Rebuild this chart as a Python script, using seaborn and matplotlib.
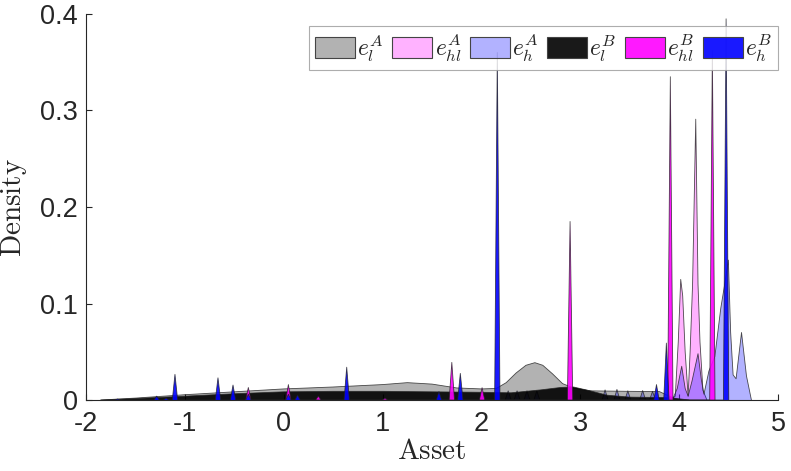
import numpy as np
import pandas as pd
import matplotlib
matplotlib.use("Agg")
import matplotlib.pyplot as plt
from matplotlib.patches import Patch
import seaborn as sns

# ---------------- data ----------------
# e_l^A  (gray) : smooth density
el_A_x = [-1.85, -1.5, -1.0, -0.5, 0.0, 0.5, 1.0, 1.25, 1.5, 1.75, 2.0, 2.15, 2.25,
          2.35, 2.45, 2.54, 2.62, 2.72, 2.82, 2.93, 3.1, 3.5, 3.8, 3.9, 4.0]
el_A_y = [0.0, 0.002, 0.0055, 0.0085, 0.0115, 0.0135, 0.016, 0.018, 0.0165, 0.0125,
          0.0115, 0.012, 0.018, 0.028, 0.036, 0.0387, 0.036, 0.027, 0.017, 0.0125,
          0.0095, 0.009, 0.0087, 0.004, 0.0]

# e_hl^A (pink)
ehl_A_x = [3.90, 3.96, 3.99, 4.015, 4.035, 4.06, 4.09, 4.11, 4.135, 4.167, 4.19,
           4.21, 4.24, 4.28]
ehl_A_y = [0.0, 0.004, 0.06, 0.125, 0.108, 0.05, 0.004, 0.05, 0.12, 0.291, 0.12,
           0.06, 0.01, 0.0]

# e_h^A (light blue)
eh_A_x = [2.24, 2.27, 2.30, 2.33, 2.36, 2.39, 2.43, 2.46, 2.49, 2.53, 2.56, 2.59,
          3.22, 3.25, 3.28, 3.34, 3.37, 3.40, 3.45, 3.48, 3.51, 3.60, 3.63, 3.66,
          3.70, 3.73, 3.76,
          3.93, 3.98, 4.025, 4.06, 4.09, 4.13, 4.19, 4.225, 4.25, 4.30, 4.36, 4.42,
          4.46, 4.497, 4.52, 4.545, 4.575, 4.63, 4.68, 4.73]
eh_A_y = [0.0, 0.0095, 0.0, 0.0, 0.0095, 0.0, 0.0, 0.0095, 0.0, 0.0, 0.0095, 0.0,
          0.0, 0.0105, 0.0, 0.0, 0.011, 0.0, 0.0, 0.0095, 0.0, 0.0, 0.0098, 0.0,
          0.0, 0.009, 0.0,
          0.0, 0.012, 0.035, 0.012, 0.004, 0.02, 0.048, 0.02, 0.006, 0.03, 0.045,
          0.095, 0.12, 0.145, 0.07, 0.026, 0.022, 0.07, 0.025, 0.0]

# e_l^B (black)
el_B_x = [-1.85, -1.5, -1.0, -0.5, 0.0, 0.5, 1.0, 1.5, 2.0, 2.3, 2.6, 2.8, 2.93,
          3.1, 3.27, 3.5, 3.9, 4.1]
el_B_y = [0.0, 0.0015, 0.004, 0.0065, 0.0085, 0.009, 0.009, 0.0085, 0.008, 0.0075,
          0.0105, 0.013, 0.0135, 0.0095, 0.005, 0.003, 0.0025, 0.0]

# e_hl^B (magenta) spikes: centres and heights
ehl_B_c = [-0.358, 0.047, 0.35, 1.024, 1.70, 2.006, 2.896, 3.91, 4.335]
ehl_B_h = [0.013, 0.016, 0.004, 0.002, 0.039, 0.0128, 0.185, 0.335, 0.362]

# e_h^B (blue) spikes: centres and heights
eh_B_c = [-1.68, -1.285, -1.19, -1.10, -0.665, -0.513, -0.358, 0.047, 0.14, 0.637,
          1.57, 1.786, 2.16, 3.77, 3.87, 4.474]
eh_B_h = [0.001, 0.004, 0.002, 0.0266, 0.023, 0.0155, 0.006, 0.006, 0.005, 0.034,
          0.0087, 0.0276, 0.36, 0.016, 0.059, 0.395]

labels = [r"$e_l^A$", r"$e_{hl}^A$", r"$e_h^A$", r"$e_l^B$", r"$e_{hl}^B$", r"$e_h^B$"]

# ---------------- styling ----------------
SPIKE_HW = 0.027
face = [(0, 0, 0, 0.3), (1, 0, 1, 0.3), (0, 0, 1, 0.3),
        (0, 0, 0, 0.9), (1, 0, 1, 0.9), (0, 0, 1, 0.9)]
EDGE = "#222222"
AXC = "#262626"

sns.set_style("ticks")
plt.rcParams["mathtext.fontset"] = "cm"
plt.rcParams["axes.unicode_minus"] = False
plt.rcParams["font.family"] = ["Liberation Sans", "DejaVu Sans"]


def spikes(cs, hs):
    xs, ys = [], []
    for c, h in zip(cs, hs):
        xs += [c - SPIKE_HW, c, c + SPIKE_HW]
        ys += [0.0, h, 0.0]
    return xs, ys


series = [
    (el_A_x, el_A_y),
    (ehl_A_x, ehl_A_y),
    (eh_A_x, eh_A_y),
    (el_B_x, el_B_y),
    spikes(ehl_B_c, ehl_B_h),
    spikes(eh_B_c, eh_B_h),
]

rows = []
for i, (xs, ys) in enumerate(series):
    for x, y in zip(xs, ys):
        rows.append({"Asset": x, "Density": y, "series": labels[i], "order": i})
df = pd.DataFrame(rows)

fig = plt.figure(figsize=(7.91, 4.71), dpi=100)
ax = fig.add_axes([0.1087, 0.1507, 0.875, 0.8196])

for i, lab in enumerate(labels):
    d = df[df["series"] == lab]
    ax.fill_between(d["Asset"].to_numpy(), 0, d["Density"].to_numpy(),
                    facecolor=face[i], edgecolor="none", zorder=2 + i * 0.1)
    sns.lineplot(data=d, x="Asset", y="Density", ax=ax, sort=False,
                 estimator=None, color=EDGE, lw=0.6, alpha=0.8,
                 zorder=2.05 + i * 0.1, legend=False)

ax.set_xlim(-2, 5)
ax.set_ylim(0, 0.4)
ax.set_xticks(range(-2, 6))
ax.set_yticks([0, 0.1, 0.2, 0.3, 0.4])
ax.set_yticklabels(["0", "0.1", "0.2", "0.3", "0.4"])
ax.tick_params(direction="in", length=4.5, width=0.8, colors=AXC,
               labelsize=19.5)
ax.tick_params(axis="x", pad=8)
ax.tick_params(axis="y", pad=6)
for s in ["top", "right"]:
    ax.spines[s].set_visible(False)
for s in ["left", "bottom"]:
    ax.spines[s].set_color(AXC)
    ax.spines[s].set_linewidth(0.8)

ax.set_xlabel(r"$\mathrm{Asset}$", fontsize=21, color=AXC, labelpad=0)
ax.set_ylabel(r"$\mathrm{Density}$", fontsize=21, color=AXC, labelpad=8)

handles = [Patch(facecolor=face[i], edgecolor="#444444", lw=0.8) for i in range(6)]
leg = ax.legend(handles, labels, ncol=6, loc="upper right",
                bbox_to_anchor=(1.0, 0.97), fontsize=17, frameon=True,
                fancybox=False, handlelength=1.7, handleheight=0.95,
                handletextpad=0.1, columnspacing=0.35, borderpad=0.25,
                borderaxespad=0.0)
leg.get_frame().set_edgecolor("#999999")
leg.get_frame().set_linewidth(0.8)
leg.set_zorder(10)

fig.savefig("out.png", dpi=100)
